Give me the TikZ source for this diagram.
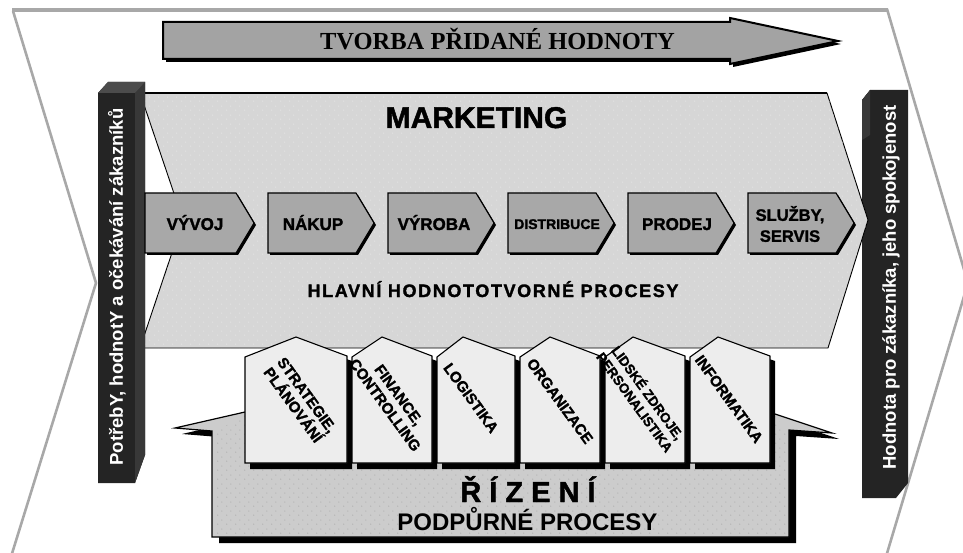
\documentclass[tikz,border=0pt]{standalone}
\usepackage{fontspec}
\setmainfont{Liberation Sans}
\newfontfamily\arrowserif{Liberation Serif}
\newfontfamily\heavysans{Liberation Sans}[BoldFeatures={FakeBold=1.6}]
\newfontfamily\spacedsans{Liberation Sans}[LetterSpace=9,BoldFeatures={FakeBold=1.6}]
\usetikzlibrary{patterns.meta}
\definecolor{framegray}{gray}{0.66}
\definecolor{arrowgray}{gray}{0.64}
\definecolor{mktgray}{gray}{0.84}
\definecolor{chevgray}{gray}{0.66}
\definecolor{housegray}{gray}{0.93}
\definecolor{rizgray}{gray}{0.80}
\definecolor{bardark}{gray}{0.14}
\definecolor{barside}{gray}{0.22}
\definecolor{bartop}{gray}{0.30}
\tikzdeclarepattern{
  name=stipple,
  type=uncolored,
  bounding box={(0pt,0pt) and (9pt,9pt)},
  tile size={(9pt,9pt)},
  code={\fill (2pt,2pt) circle (0.55pt); \fill (6.5pt,6.5pt) circle (0.55pt);}
}
\begin{document}
\begin{tikzpicture}[x=1pt,y=-1pt,
  frameline/.style={draw=framegray,line width=2.6pt},
  shade/.style={fill=black,draw=none},
  chevbox/.style={fill=chevgray,draw=black,line width=1.1pt,line join=miter},
  housebox/.style={fill=housegray,draw=black,line width=1.1pt,line join=miter},
  chevlabel/.style={font=\heavysans\bfseries\fontsize{17}{20}\selectfont,anchor=base,inner sep=0pt},
  houselabel/.style={font=\heavysans\bfseries\fontsize{15}{17}\selectfont,align=center,rotate=-54,inner sep=0pt},
  barlabel/.style={font=\bfseries\fontsize{18.5}{20}\selectfont,text=white,rotate=90,inner sep=0pt}
]
\useasboundingbox (0,0) rectangle (963,553);
\clip (0,0) rectangle (963,553);

% outer chevron frame
\draw[frameline] (13,11) -- (96,283) -- (10,560);
\draw[frameline] (887,9) -- (968,283) -- (885,560);
\draw[framegray,line width=4pt] (12,10) -- (888,10);

% value-creation arrow on top
\fill[shade] (166,25) -- (733,25) -- (733,21) -- (841,44) -- (733,67) -- (733,62) -- (166,62) -- cycle;
\draw[fill=arrowgray,draw=black,line width=2pt,line join=miter]
  (163,22) -- (730,22) -- (730,18) -- (838,41) -- (730,64) -- (730,59) -- (163,59) -- cycle;
\node[font=\arrowserif\bfseries\fontsize{24.5}{26}\selectfont,anchor=base,inner sep=0pt] (tvorba) at (497.5,50) {TVORBA PŘIDANÉ HODNOTY};

% right customer bar
\fill[bardark] (862,100) -- (870,90) -- (908,90) -- (908,483) -- (896,498) -- (862,498) -- cycle;
\fill[barside] (862,100) -- (870,90) -- (870,135) -- (862,140) -- cycle;
\node[barlabel] (value) at (891,287.5) {Hodnota pro zákazníka, jeho spokojenost};

% marketing pentagon
\draw[fill=mktgray,draw=black,line width=0.9pt,line join=miter]
  (140,93) -- (827,93) -- (868,220) -- (828,348) -- (140,348) -- (183,220) -- cycle;
\fill[pattern=stipple,pattern color=white!55!mktgray]
  (140,93) -- (827,93) -- (868,220) -- (828,348) -- (140,348) -- (183,220) -- cycle;
\draw[black,line width=1.6pt] (140,93) -- (827,93);
\node[font=\heavysans\bfseries\fontsize{30}{33}\selectfont,anchor=base,inner sep=0pt] (marketing) at (476.5,128) {MARKETING};
\node[font=\spacedsans\bfseries\fontsize{18}{20}\selectfont,anchor=base,inner sep=0pt] (hlavni) at (493,297) {HLAVNÍ HODNOTOTVORNÉ PROCESY};

% left customer bar
\fill[bardark] (98,93) -- (108,82) -- (145,82) -- (145,455) -- (135,483) -- (98,483) -- cycle;
\fill[barside] (135,93) -- (145,82) -- (145,455) -- (135,483) -- cycle;
\fill[bartop] (98,93) -- (108,82) -- (145,82) -- (135,93) -- cycle;
\node[barlabel] (needs) at (117,287) {PotřebY, hodnotY a očekávání zákazníků};

% main value chain
\foreach \xa/\xb in {145/236, 268/356, 388/476, 508/596, 628/716, 748/836} {
  \fill[shade] (\xa+2,195) -- (\xb+2,195) -- (\xb+20,225) -- (\xb+2,255) -- (\xa+2,255) -- cycle;
  \draw[chevbox] (\xa,193) -- (\xb,193) -- (\xb+18,223) -- (\xb,253) -- (\xa,253) -- cycle;
}
\node[chevlabel] (vyvoj) at (195,230) {VÝVOJ};
\node[chevlabel] (nakup) at (313,230) {NÁKUP};
\node[chevlabel] (vyroba) at (434,230) {VÝROBA};
\node[chevlabel,font=\heavysans\bfseries\fontsize{14}{16}\selectfont] (distribuce) at (557,229) {DISTRIBUCE};
\node[chevlabel] (prodej) at (677,230) {PRODEJ};
\node[font=\heavysans\bfseries\fontsize{16.5}{21}\selectfont,align=center,inner sep=0pt] (sluzby) at (790,224) {SLUŽBY,\\SERVIS};

% management / support processes base
\fill[shade] (219,543) -- (219,437) -- (182,434) -- (252,418) -- (782,420) -- (839,439) -- (796,436) -- (796,543) -- cycle;
\draw[fill=rizgray,draw=black,line width=1.2pt,line join=miter]
  (212,537) -- (212,431) -- (175,428) -- (245,412) -- (775,414) -- (832,433) -- (789,430) -- (789,537) -- cycle;
\fill[pattern=stipple,pattern color=rizgray!75!black]
  (214,535) -- (214,433) -- (245,414) -- (775,416) -- (787,432) -- (787,535) -- cycle;
\node[font=\heavysans\bfseries\fontsize{29}{31}\selectfont,anchor=base,inner sep=0pt] (rizeni) at (528,502) {Ř Í Z E N Í};
\node[font=\bfseries\fontsize{24}{26}\selectfont,anchor=base,inner sep=0pt] (podpurne) at (527.5,530) {PODPŮRNÉ PROCESY};

% support-process houses
\foreach \l/\r/\a in {245/347/296, 352/432/382, 437/515/463, 520/600/550, 605/685/633, 690/770/718} {
  \fill[shade] (\l+5,362) -- (\a+5,343) -- (\r+5,361) -- (\r+5,469) -- (\l+5,469) -- cycle;
  \draw[housebox] (\l,357) -- (\a,337) -- (\r,356) -- (\r,463) -- (\l,463) -- cycle;
}
\node[houselabel] (strategie) at (300,400) {STRATEGIE,\\PLÁNOVÁNÍ};
\node[houselabel] (finance) at (392,400) {FINANCE,\\CONTROLLING};
\node[houselabel] (logistika) at (471,398) {LOGISTIKA};
\node[houselabel] (organizace) at (560,401) {ORGANIZACE};
\node[houselabel,font=\heavysans\bfseries\fontsize{13.5}{16}\selectfont] (lidske) at (642,397) {LIDSKÉ ZDROJE,\\PERSONALISTIKA};
\node[houselabel] (informatika) at (729,399) {INFORMATIKA};
\end{tikzpicture}
\end{document}
